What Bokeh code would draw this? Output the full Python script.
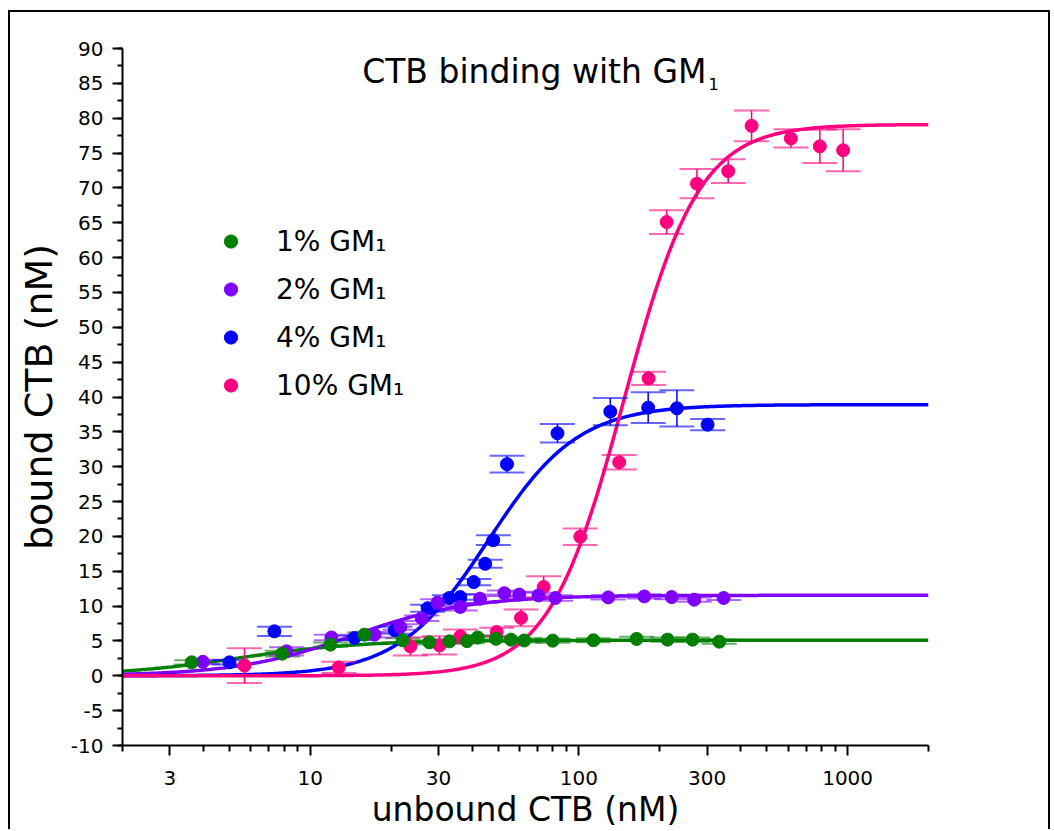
import numpy as np
from bokeh.plotting import figure
from bokeh.models import (FixedTicker, SingleIntervalTicker, Label, Legend, LegendItem, Range1d)
from bokeh.embed import file_html
from bokeh.resources import INLINE

# ---------------- data ----------------
green_x = [3.62, 7.86, 11.88, 15.9, 22.08, 27.74, 32.93, 38.31, 41.99, 49.12, 55.85, 62.58, 79.85, 113.2, 163.9, 213.8, 264.8, 332.7]
green_y = [1.93, 3.18, 4.47, 5.90, 5.09, 4.80, 4.94, 4.98, 5.50, 5.31, 5.19, 5.07, 5.04, 5.10, 5.29, 5.19, 5.19, 4.90]
green_err = [0.3, 0.4, 0.3, 0.3, 0.3, 0.3, 0.3, 0.3, 0.3, 0.3, 0.3, 0.3, 0.3, 0.3, 0.3, 0.3, 0.3, 0.3]

purple_x = [3.98, 8.16, 11.98, 17.32, 21.64, 25.99, 29.76, 36.17, 42.82, 52.75, 59.97, 70.68, 81.77, 128.5, 175.0, 221.3, 268.5, 345.4]
purple_y = [2.0, 3.51, 5.5, 5.9, 7.0, 8.25, 10.5, 9.87, 11.06, 11.85, 11.65, 11.53, 11.16, 11.25, 11.39, 11.30, 10.92, 11.16]
purple_err = [0.3, 0.6, 0.4, 0.4, 0.4, 0.4, 0.5, 0.5, 0.6, 0.4, 0.4, 0.4, 0.4, 0.3, 0.3, 0.3, 0.3, 0.3]

blue_x = [5.0, 7.35, 14.59, 20.64, 27.36, 32.93, 36.17, 40.58, 44.77, 47.99, 53.97, 83.18, 130.8, 181.0, 231.5, 301.2]
blue_y = [1.93, 6.38, 5.43, 6.52, 9.7, 11.16, 11.3, 13.45, 16.07, 19.45, 30.36, 34.8, 37.9, 38.47, 38.38, 36.03]
blue_err = [0.3, 0.67, 0.3, 0.5, 0.5, 0.4, 0.4, 0.45, 0.57, 0.7, 1.2, 1.34, 1.96, 2.2, 2.6, 0.8]

pink_x = [5.69, 12.76, 23.57, 30.27, 36.17, 49.41, 60.84, 73.89, 101.1, 141.2, 181.6, 212.0, 274.8, 359.3, 439.0, 614.7, 788.0, 962.3]
pink_y = [1.46, 1.2, 4.23, 4.37, 5.66, 6.29, 8.3, 12.74, 19.95, 30.64, 42.68, 65.1, 70.6, 72.4, 78.9, 77.1, 75.96, 75.4]
pink_err = [2.5, 0.8, 1.3, 1.3, 1.0, 0.6, 1.2, 1.55, 1.2, 1.05, 0.95, 1.7, 2.1, 1.7, 2.2, 1.3, 2.4, 3.0]

# Hill-fit parameters of the drawn curves (Bmax, K, n)
green_fit = [5.1, 5.4, 1.9]
purple_fit = [11.55, 14.4, 2.0]
blue_fit = [38.9, 46.0, 2.6]
pink_fit = [79.1, 147.0, 3.1]
fit_range = [2, 2000]

labels = ["1% GM\u2081", "2% GM\u2081", "4% GM\u2081", "10% GM\u2081"]
colors = ["#008000", "#8000FF", "#0000FF", "#FF0080"]

x_ticks = [3, 10, 30, 100, 300, 1000]
x_minor = [2, 4, 5, 6, 7, 8, 9, 20, 40, 50, 60, 70, 80, 90, 200, 400, 500, 600, 700, 800, 900, 2000]

FONT = "DejaVu Sans"

p = figure(width=1042, height=819, x_axis_type="log",
           x_range=Range1d(2, 2000), y_range=Range1d(-10, 90),
           output_backend="svg", toolbar_location=None,
           min_border_left=112, min_border_right=124, min_border_top=36, min_border_bottom=85,
           background_fill_color="white", border_fill_color="white",
           x_axis_label="unbound CTB (nM)", y_axis_label="bound CTB (nM)")
p.styles = {"margin-left": "8px", "margin-top": "10px",
            "border-left": "2px solid black", "border-top": "2px solid black",
            "border-right": "2px solid black"}
p.outline_line_color = None
p.grid.visible = False

series = [
    (green_x, green_y, green_err, green_fit),
    (purple_x, purple_y, purple_err, purple_fit),
    (blue_x, blue_y, blue_err, blue_fit),
    (pink_x, pink_y, pink_err, pink_fit),
]

# fit curves
for (sx, sy, se, fit), c in zip(series, colors):
    bmax, k, n = fit
    xs = np.logspace(np.log10(fit_range[0]), np.log10(fit_range[1]), 400)
    ys = bmax * xs ** n / (k ** n + xs ** n)
    p.line(xs, ys, line_color=c, line_width=3.5)

# error bars
for (sx, sy, se, fit), c in zip(series, colors):
    x = np.array(sx, dtype=float)
    y = np.array(sy, dtype=float)
    e = np.array(se, dtype=float)
    p.segment(x0=x, y0=y - e, x1=x, y1=y + e, line_color=c, line_width=1.5)
    p.scatter(np.concatenate([x, x]), np.concatenate([y + e, y - e]), marker="dash",
              size=35, line_color=c, line_width=2, line_alpha=0.6)

# points (pink at the bottom, green on top)
renderers = {}
for i in [3, 2, 1, 0]:
    sx, sy, se, fit = series[i]
    renderers[i] = p.scatter(sx, sy, size=13, fill_color=colors[i], line_color=colors[i])

legend = Legend(items=[LegendItem(label=labels[i], renderers=[renderers[i]]) for i in range(4)],
                location=(92, 336), orientation="vertical",
                glyph_width=33, glyph_height=48, label_height=48, label_standoff=29,
                spacing=0, padding=0, margin=0,
                border_line_color=None, background_fill_alpha=0,
                label_text_font=FONT, label_text_font_size="28px", label_text_color="black")
p.add_layout(legend)

# axes
xa = p.xaxis[0]
xa.ticker = FixedTicker(ticks=x_ticks, minor_ticks=x_minor)
xa.major_label_overrides = {t: str(t) for t in x_ticks}
ya = p.yaxis[0]
ya.ticker = SingleIntervalTicker(interval=5, num_minor_ticks=2)
ya.major_label_overrides = {-10: "-10", -5: "-5"}
for ax in (xa, ya):
    ax.axis_line_width = 2
    ax.axis_line_color = "black"
    ax.major_tick_line_width = 2
    ax.minor_tick_line_width = 2
    ax.major_tick_in = 0
    ax.minor_tick_in = 0
    ax.major_tick_out = 10
    ax.minor_tick_out = 5
    ax.major_label_text_font = FONT
    ax.major_label_text_font_size = "20px"
    ax.major_label_text_color = "black"
    ax.axis_label_text_font = FONT
    ax.axis_label_text_font_style = "normal"
    ax.axis_label_text_color = "black"
xa.minor_tick_out = 6
xa.major_label_standoff = 15
ya.major_label_standoff = 9
xa.axis_label_standoff = 2
ya.axis_label_standoff = 7
xa.axis_label_text_font_size = "33px"
ya.axis_label_text_font_size = "38px"

# chart title with subscript
p.add_layout(Label(x=584, y=674, x_units="screen", y_units="screen", text="CTB binding with GM",
                   text_align="right", text_baseline="alphabetic", text_font=FONT,
                   text_font_size="33px", text_color="black"))
p.add_layout(Label(x=586, y=662, x_units="screen", y_units="screen", text="1",
                   text_align="left", text_baseline="alphabetic", text_font=FONT,
                   text_font_size="16px", text_color="black"))

open("out.html", "w").write(file_html(p, INLINE))
